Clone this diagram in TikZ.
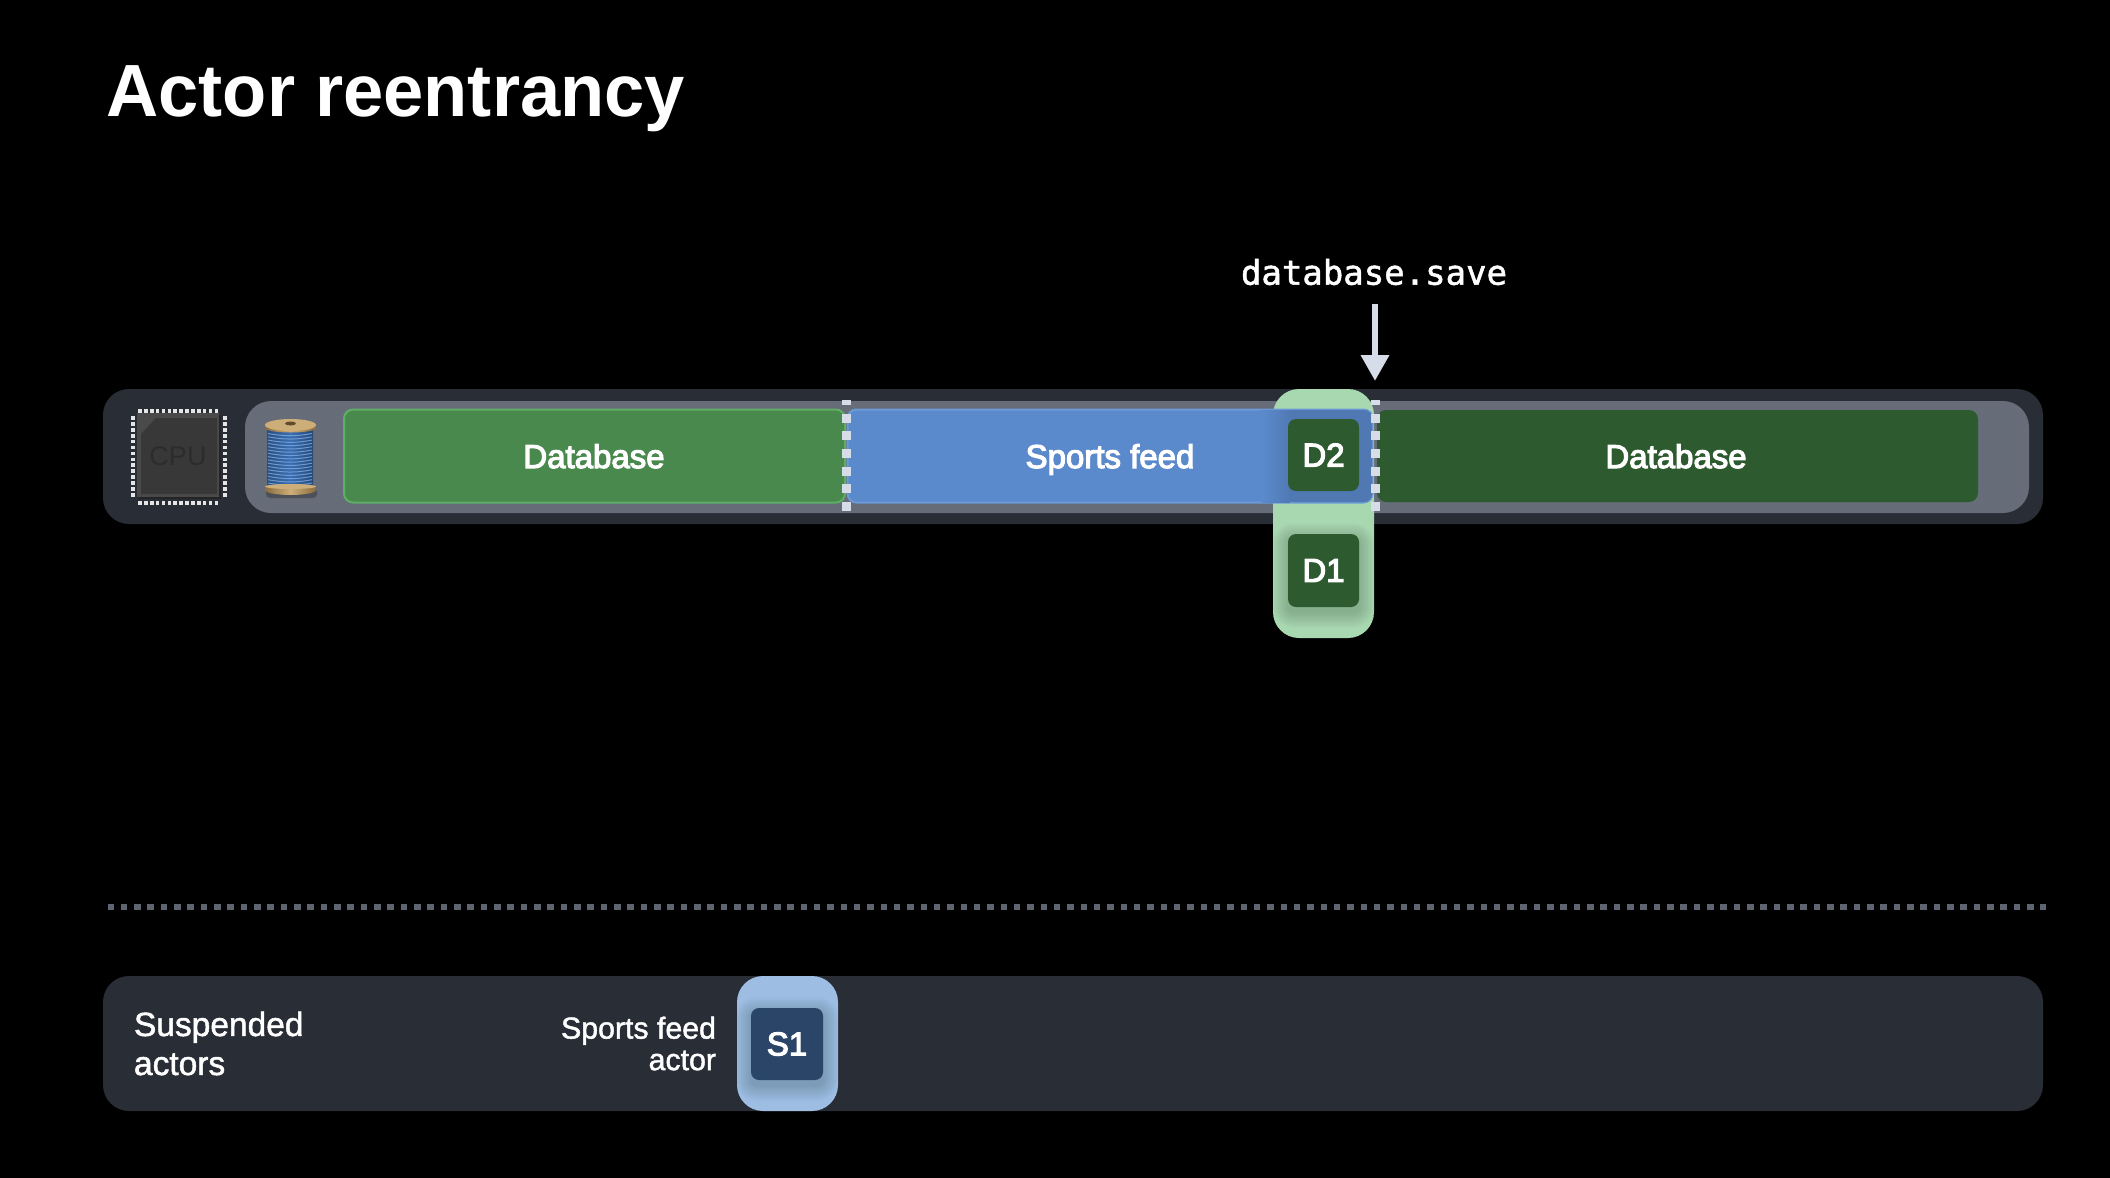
\documentclass[tikz,border=0pt]{standalone}
\usepackage{fontspec}
\setmainfont{Liberation Sans}
\newfontfamily\medfont[FakeBold=3.5]{Liberation Sans}
\newfontfamily\lightfont[FakeBold=1.5]{Liberation Sans}
\newfontfamily\codefont[FakeBold=1.5]{DejaVu Sans Mono}
\usetikzlibrary{arrows.meta}
\definecolor{barouter}{HTML}{292D36}
\definecolor{barinner}{HTML}{666C78}
\definecolor{dbgreen}{HTML}{4A894E}
\definecolor{dbedge}{HTML}{5FAE66}
\definecolor{dbdark}{HTML}{2E5A2F}
\definecolor{sportblue}{HTML}{5B8ACC}
\definecolor{sportedge}{HTML}{6C9AD8}
\definecolor{palegreen}{HTML}{A8D8B0}
\definecolor{paleblue}{HTML}{9DBDE3}
\definecolor{navy}{HTML}{2A4568}
\definecolor{tick}{HTML}{D6DCE8}
\definecolor{sepgrey}{HTML}{5E6470}
\definecolor{chipedge}{HTML}{4A4A4A}
\definecolor{chipface}{HTML}{383838}
\definecolor{chipdark}{HTML}{242424}
\definecolor{chiptext}{HTML}{2C2C2C}
\definecolor{spooltan}{HTML}{CDAE78}
\definecolor{spoolbrown}{HTML}{8A6C3E}
\definecolor{threadblue}{HTML}{3A6FB4}
\definecolor{threadlight}{HTML}{7FA9DE}
\tikzset{
  panel/.style={inner sep=0pt,outer sep=0pt,text=white,align=center},
  labeltext/.style={panel,anchor=base,font=\medfont\fontsize{33}{39}\selectfont},
  tile/.style={panel,rounded corners=8pt,font=\medfont\fontsize{33}{39}\selectfont},
  boundary/.style={draw=tick,line width=9pt,dash pattern=on 9pt off 8.7pt},
  pin/.style={fill=white!90!black},
}
\newcommand{\softshade}[4]{%
  \foreach \g in {1,2.5,...,16}{\fill[black,opacity=.016,rounded corners=\g pt+6pt]
    (#1-\g,#2-\g+5) rectangle (#3+\g,#4+\g+5);}}
\begin{document}
\begin{tikzpicture}[x=1pt,y=-1pt]
\useasboundingbox (0,0) rectangle (2110,1178);
\fill[black] (0,0) rectangle (2110,1178);
\node[panel,anchor=base west,font=\bfseries\fontsize{74}{80}\selectfont] (titletext) at (106.5,116.5) {\scalebox{.977}[1]{Actor reentrancy}};

% top bar
\fill[barouter,rounded corners=26pt] (103,389) rectangle (2043,524);
\fill[barinner,rounded corners=26pt] (245,401) rectangle (2029,513);

% cpu
\fill[chipdark] (138,415) rectangle (221,499);
\fill[chipedge] (137,413) rectangle (219,497);
\fill[chipface] (141,434) -- (156,418) -- (217,418) -- (217,494) -- (141,494) -- cycle;
\node[panel,text=chiptext,font=\fontsize{27}{30}\selectfont] (cpulabel) at (178,456) {CPU};
\foreach \i in {0,...,13}{
  \fill[pin] (140+5.87*\i-1.8,409.2) rectangle ++(3.6,3.6);
  \fill[pin] (140+5.87*\i-1.8,501.2) rectangle ++(3.6,3.6);
  \fill[pin] (131.2,418+5.9*\i-1.8) rectangle ++(3.6,3.6);
  \fill[pin] (223.2,418+5.9*\i-1.8) rectangle ++(3.6,3.6);
}

% spool
\fill[black,opacity=.25,rounded corners=4pt] (266,488) rectangle (317,498);
\shade[left color=threadblue!70!black,right color=threadblue!65!black,middle color=threadblue] (267,428) rectangle (313,490);
\foreach \i in {0,...,16}{
  \draw[threadlight,line width=1pt,opacity=.8] (268,433.5+3.3*\i) .. controls (285,436.5+3.3*\i) and (296,436.5+3.3*\i) .. (312,433.5+3.3*\i);
}
\shade[left color=spoolbrown,right color=spoolbrown,middle color=spooltan] (265,425) rectangle (316,428) arc[start angle=0,end angle=-180,x radius=25.5,y radius=-4.5] -- cycle;
\fill[spooltan] (290.5,425) ellipse[x radius=25.5,y radius=6];
\fill[spoolbrown!70!black] (290.5,423.5) ellipse[x radius=5.5,y radius=2];
\shade[left color=spoolbrown,right color=spoolbrown,middle color=spooltan] (265,486) rectangle (316,490) arc[start angle=0,end angle=180,x radius=25.5,y radius=5] -- cycle;
\fill[spooltan] (290.5,486.5) ellipse[x radius=25.5,y radius=2.5];

% segments
\node[panel,draw=dbedge,line width=2pt,fill=dbgreen,rounded corners=9pt,minimum width=501pt,minimum height=93pt] (dbone) at (594.5,456) {};
\node[labeltext] (dbonetext) at (594,468) {Database};
\node[panel,fill=dbdark,rounded corners=9pt,minimum width=601pt,minimum height=92pt] (dbtwo) at (1677.5,456) {};
\node[labeltext] (dbtwotext) at (1676,468) {Database};

% green actor pane
\fill[palegreen,rounded corners=26pt] (1273,389) rectangle (1374,638);

% blue segment
\node[panel,draw=sportedge,line width=2pt,fill=sportblue,rounded corners=9pt,minimum width=525pt,minimum height=93pt] (sports) at (1110,456) {};
\fill[sportblue!88!black,rounded corners=8pt] (1285,410) -- (1372,410) -- (1372,502) -- (1285,502) -- cycle;
\shade[left color=sportblue,right color=sportblue!88!black] (1262,410) rectangle (1290,502);
\node[labeltext] (sportstext) at (1110,468) {Sports feed};

% actor tiles
\softshade{1288}{534}{1359}{607}
\node[tile,fill=dbdark,minimum width=71pt,minimum height=72pt] (dtwo) at (1323.5,455) {D2};
\node[tile,fill=dbdark,minimum width=71pt,minimum height=73pt] (done) at (1323.5,570.5) {D1};

% boundaries
\draw[tick,line width=9pt] (846,399.5) -- (846,405);
\draw[boundary] (846,413.5) -- (846,512);
\draw[tick,line width=9pt] (1375,399.5) -- (1375,405);
\draw[boundary] (1375,413.5) -- (1375,512);

% call label + arrow
\node[panel,font=\codefont\fontsize{34}{40}\selectfont] (save) at (1374,272) {database.save};
\coordinate (savefrom) at (1375,304);
\coordinate (saveto) at (1375,381);
\draw[tick,line width=6.5pt,-{Triangle[length=26pt,width=27pt]}] (savefrom) -- (saveto);

% separator
\draw[sepgrey,line width=6.5pt,dash pattern=on 6.5pt off 6.83pt] (107.5,907) -- (2046,907);

% suspended bar
\fill[barouter,rounded corners=26pt] (103,976) rectangle (2043,1111);
\node[panel,align=left,anchor=west,font=\lightfont\fontsize{33.5}{39}\selectfont] (suspended) at (134,1043.5) {Suspended\\actors};
\node[panel,align=right,anchor=east,font=\lightfont\fontsize{30.3}{31.5}\selectfont] (sportsactor) at (716,1043.5) {Sports feed\\actor};
\fill[paleblue,rounded corners=26pt] (737,976) rectangle (838,1111);
\softshade{751}{1008}{823}{1080}
\node[tile,fill=navy,minimum width=72pt,minimum height=72pt] (sone) at (787,1044) {S1};
\end{tikzpicture}
\end{document}
